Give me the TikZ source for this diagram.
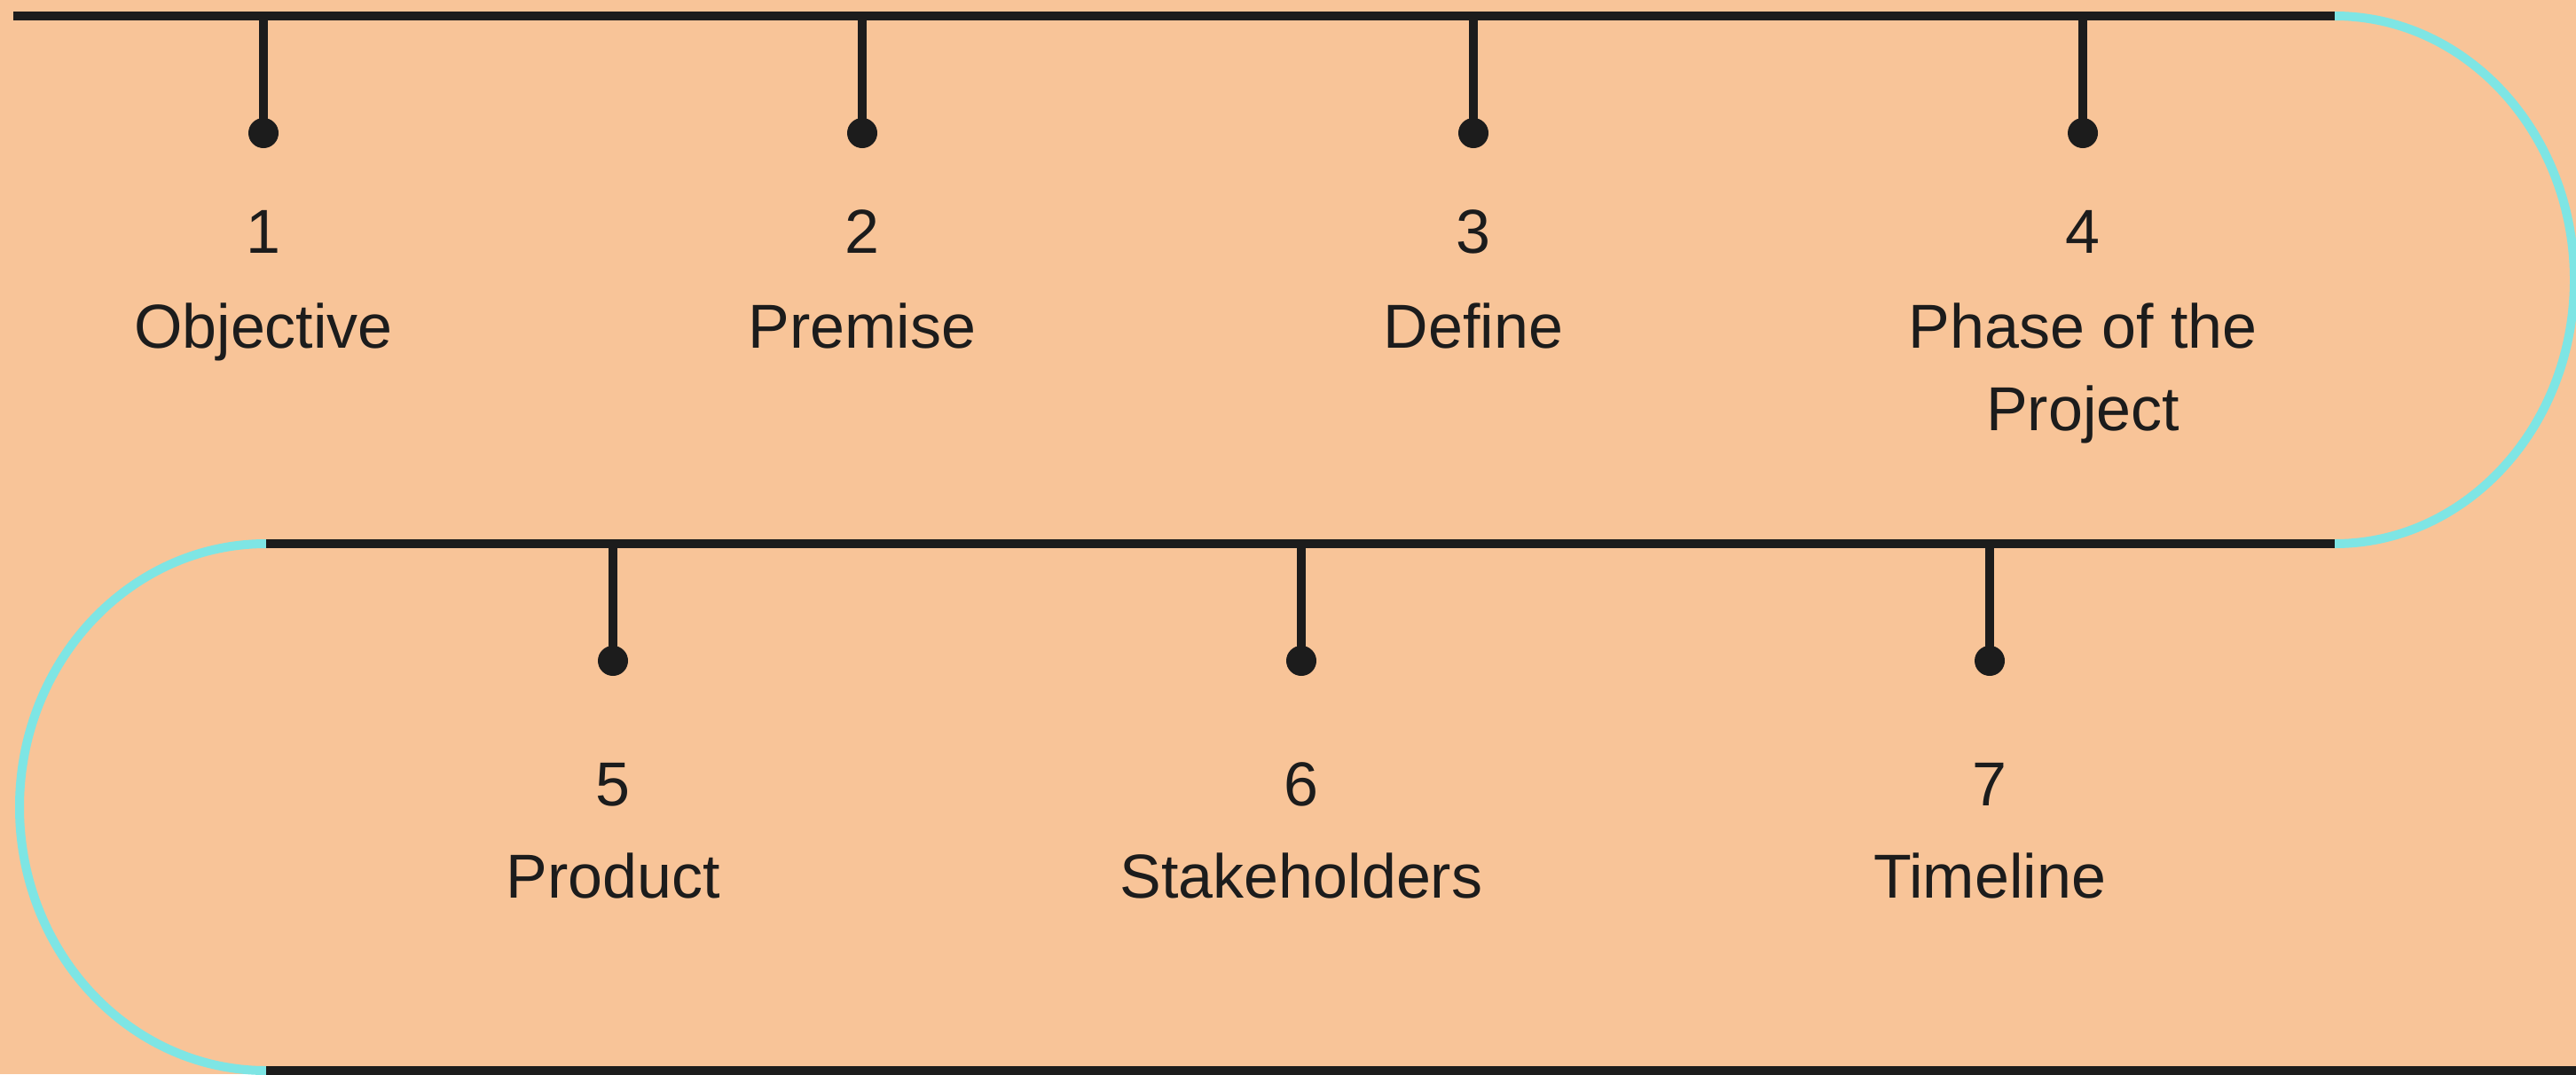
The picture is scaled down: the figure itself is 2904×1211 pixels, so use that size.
\documentclass[tikz,border=0pt]{standalone}
\usepackage{fontspec}
\setmainfont{Liberation Sans}
\definecolor{bg}{RGB}{248,196,152}
\definecolor{ink}{RGB}{28,28,28}
\definecolor{cyanarc}{RGB}{126,229,228}
\begin{document}
\begin{tikzpicture}[x=1pt,y=-1pt,
  rail/.style={draw=ink,line width=10.5pt},
  bendline/.style={draw=cyanarc,line width=10pt},
  stem/.style={draw=ink,line width=10pt},
  dotnode/.style={circle,fill=ink,minimum size=34pt,inner sep=0pt},
  numlbl/.style={anchor=base,text=ink,font=\fontsize{70}{84}\selectfont,inner sep=0pt},
  txtlbl/.style={anchor=base,text=ink,font=\fontsize{70}{93}\selectfont,inner sep=0pt,align=center},
]
\fill[bg] (0,0) rectangle (2904,1211);
\useasboundingbox (0,0) rectangle (2904,1211);

% rails
\coordinate (r1a) at (15,18);
\coordinate (r1b) at (2632,18);
\coordinate (r2a) at (300,613);
\coordinate (r2b) at (2632,613);
\coordinate (r3a) at (300,1207);
\coordinate (r3b) at (2904,1207);

\draw[bendline] (r1b) arc[start angle=-90,end angle=90,x radius=270,y radius=297.5];
\draw[bendline] (r2a) arc[start angle=-90,end angle=-270,x radius=278,y radius=297];

\draw[rail] (r1a) -- (r1b);
\draw[rail] (r2a) -- (r2b);
\draw[rail] (r3a) -- (r3b);

% top row
\foreach \n/\x in {1/297,2/972,3/1661,4/2348}{
  \coordinate (t\n) at (\x,18);
  \node[dotnode] (d\n) at (\x,150) {};
  \draw[stem] (t\n) -- (d\n.center);
  \node[numlbl] (n\n) at (\x,285) {\n};
}
\node[txtlbl] (l1) at (297,392) {Objective};
\node[txtlbl] (l2) at (972,392) {Premise};
\node[txtlbl] (l3) at (1661,392) {Define};
\node[txtlbl] (l4) at (2348,485) {Phase of the\\Project};

% bottom row
\foreach \n/\x/\lab in {5/691/Product,6/1467/Stakeholders,7/2243/Timeline}{
  \coordinate (t\n) at (\x,613);
  \node[dotnode] (d\n) at (\x,745) {};
  \draw[stem] (t\n) -- (d\n.center);
  \node[numlbl] (n\n) at (\x,908) {\n};
  \node[txtlbl] (l\n) at (\x,1012) {\lab};
}
\end{tikzpicture}
\end{document}
